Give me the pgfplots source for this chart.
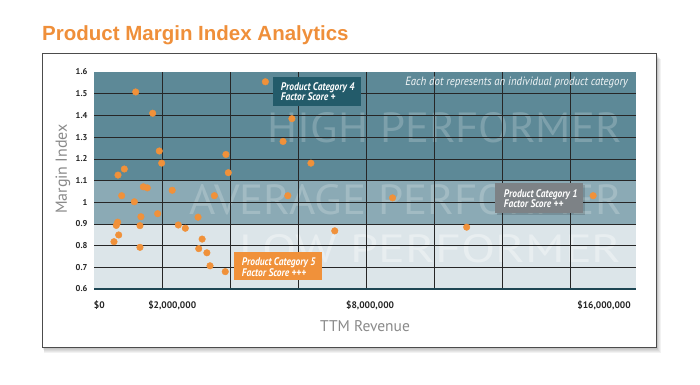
\documentclass[border=0pt]{standalone}
\usepackage{pgfplots}
\pgfplotsset{compat=1.18}
\usepackage{fontspec}
\setmainfont{PT Sans}
\newfontfamily\titlefont{Liberation Sans}
\definecolor{orangeT}{HTML}{EF8F3A}
\definecolor{bandTop}{HTML}{5D8997}
\definecolor{bandMid}{HTML}{8BAAB5}
\definecolor{bandLow}{HTML}{DCE5E9}
\definecolor{catFour}{HTML}{235B6A}
\definecolor{catOne}{HTML}{7D8286}
\definecolor{dotOr}{HTML}{F0913A}
\definecolor{axisLine}{HTML}{1E4653}
\definecolor{labGray}{HTML}{8A8A8A}
\begin{document}
\begin{tikzpicture}[x=1pt,y=1pt]
\path[use as bounding box] (0,0) rectangle (700,384);
% frame shadow
\foreach \i in {1,...,6}{
  \fill[black,opacity=0.05] (42+\i*0.4,37-\i) rectangle (656+\i*0.8,331-\i);
}
\draw[fill=white, draw=black!70, line width=0.9pt] (42,37) rectangle (656,331);
% title
\node[anchor=base west, inner sep=0, text=orangeT, font=\titlefont\bfseries\fontsize{20.5}{24}\selectfont] at (42,344) {Product Margin Index Analytics};
% bands
\fill[bandLow] (94,95) rectangle (636,160.1);
\fill[bandMid] (94,160.1) rectangle (636,203.5);
\fill[bandTop] (94,203.5) rectangle (636,312);
% watermarks
\node[anchor=south east, inner sep=0, text=white, opacity=0.2] at (622,241) {\resizebox{354pt}{30pt}{HIGH PERFORMER}};
\node[anchor=south east, inner sep=0, text=white, opacity=0.2] at (622,169) {\resizebox{432pt}{30pt}{AVERAGE PERFORMER}};
\node[anchor=south east, inner sep=0, text=white, opacity=0.35] at (622,121) {\resizebox{382pt}{28pt}{LOW PERFORMER}};
\begin{axis}[
  at={(94pt,95pt)}, anchor=south west,
  scale only axis, width=542pt, height=217pt,
  xmin=0, xmax=7.97, ymin=0.6, ymax=1.6,
  axis line style={draw=none},
  major tick length=0pt, minor tick length=0pt,
  xtick={0.078,1.15,4.06,7.5},
  xticklabels={{\$0},{\$2,000,000},{\$8,000,000},{\$16,000,000}},
  minor xtick={1,2,3,4,5,6,7},
  xminorgrids=true, xmajorgrids=false,
  ytick={0.6,0.7,0.8,0.9,1.0,1.1,1.2,1.3,1.4,1.5},
  yticklabels={0.6,0.7,0.8,0.9,1,1.1,1.2,1.3,1.4,1.5},
  extra y ticks={1.6}, extra y tick labels={1.6},
  extra y tick style={grid=none},
  ymajorgrids=true,
  grid style={black!85, line width=0.6pt},
  minor grid style={black!85, line width=0.6pt},
  xticklabel style={font=\bfseries\fontsize{9.5}{10}\selectfont, text=black!85, yshift=-8pt},
  yticklabel style={font=\bfseries\fontsize{8.5}{9}\selectfont, text=black!85, xshift=-3pt},
  clip=false,
]
% x values are in grid-column units (the reference's revenue axis is not linear)
\addplot[only marks, mark=*, mark size=3.3pt, color=dotOr, mark options={draw=dotOr, fill=dotOr}] coordinates {
(0.613,1.508) (0.863,1.41) (0.96,1.236) (0.995,1.18) (0.353,1.125) (0.446,1.153)
(0.407,1.03) (0.593,1.002) (0.725,1.071) (0.784,1.066) (0.69,0.933) (0.936,0.947)
(0.676,0.892) (0.676,0.792) (0.348,0.908) (0.328,0.893) (0.363,0.849) (0.294,0.818)
(1.15,1.055) (1.24,0.895) (1.343,0.88) (1.53,0.931) (1.59,0.83) (1.54,0.786)
(1.66,0.767) (1.706,0.707) (1.93,0.68) (1.77,1.03) (1.94,1.22) (1.975,1.136)
(2.52,1.555) (2.91,1.385) (2.78,1.28) (2.85,1.03) (3.19,1.18) (3.54,0.868)
(4.39,1.02) (5.48,0.885) (7.34,1.03)
};
\draw[line width=2pt, axisLine] (axis cs:0,0.6) -- (axis cs:7.97,0.6);
\end{axis}
% axis titles
\node[rotate=90, inner sep=0, text=labGray, font=\fontsize{16}{18}\selectfont] at (63,215) {Margin Index};
\node[anchor=base, inner sep=0, text=labGray, font=\fontsize{15.5}{18}\selectfont] at (365,53) {TTM Revenue};
% note
\node[anchor=base east, inner sep=0, text=white!92!bandTop, font=\itshape\fontsize{12}{14}\selectfont, xscale=0.9] at (628,298.5) {Each dot represents an individual product category};
% annotation boxes
\fill[catFour] (273,278) rectangle (361,307);
\node[anchor=base west, inner sep=0, text=white, font=\bfseries\itshape\fontsize{11}{12}\selectfont, xscale=0.86] at (280.7,294) {Product Category 4};
\node[anchor=base west, inner sep=0, text=white, font=\bfseries\itshape\fontsize{11}{12}\selectfont, xscale=0.86] at (280.7,283.3) {Factor Score +};
\fill[dotOr] (234,104) rectangle (322,132);
\node[anchor=base west, inner sep=0, text=white, font=\bfseries\itshape\fontsize{11}{12}\selectfont, xscale=0.86] at (241.7,119) {Product Category 5};
\node[anchor=base west, inner sep=0, text=white, font=\bfseries\itshape\fontsize{11}{12}\selectfont, xscale=0.86] at (241.7,108) {Factor Score +++};
\fill[black,opacity=0.15] (497,169) rectangle (585,199);
\fill[catOne] (495,171) rectangle (583,201);
\node[anchor=base west, inner sep=0, text=white, font=\bfseries\itshape\fontsize{11}{12}\selectfont, xscale=0.86] at (503.7,186.7) {Product Category 1};
\node[anchor=base west, inner sep=0, text=white, font=\bfseries\itshape\fontsize{11}{12}\selectfont, xscale=0.86] at (503.7,176.7) {Factor Score ++};
\end{tikzpicture}
\end{document}
